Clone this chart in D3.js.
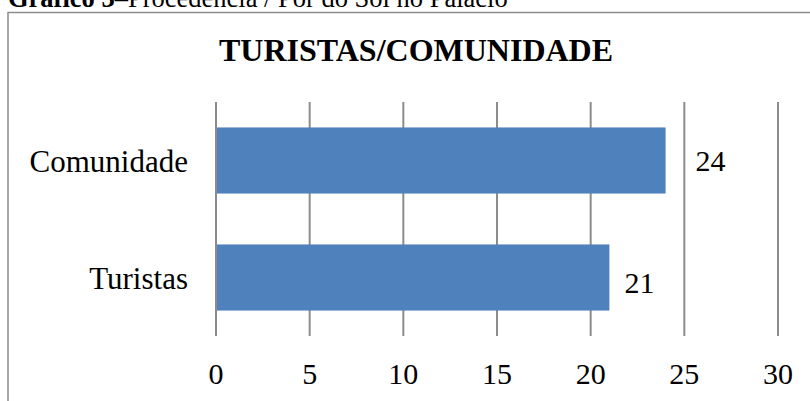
<!DOCTYPE html>
<meta charset="utf-8">
<script src="https://d3js.org/d3.v7.min.js"></script>
<style>
  body { margin: 0; background: #fff; }
</style>
<div id="chart"></div>
<script>
// data
var categories = ["Comunidade", "Turistas"];
var values = [24, 21];
var tickValues = [0, 5, 10, 15, 20, 25, 30];

var width = 810, height = 401;
var font = "'Liberation Serif', 'Times New Roman', serif";

var svg = d3.select("#chart").append("svg")
    .attr("width", width)
    .attr("height", height);

// caption above the box (cut off at top)
var cap = svg.append("text")
    .attr("x", 8)
    .attr("y", 7)
    .style("font-family", font)
    .style("font-size", "26.5px")
    .style("fill", "#000");
cap.append("tspan").style("font-weight", "bold").text("Gráfico 3");
cap.append("tspan").text("–Procedência / Pôr do Sol no Palácio");

// chart border
svg.append("rect")
    .attr("x", 8)
    .attr("y", 12.5)
    .attr("width", 820)
    .attr("height", 420)
    .attr("fill", "none")
    .attr("stroke", "#8c8c8c")
    .attr("stroke-width", 1.5);

// title
svg.append("text")
    .attr("x", 416)
    .attr("y", 61)
    .attr("text-anchor", "middle")
    .style("font-family", font)
    .style("font-size", "32px")
    .style("font-weight", "bold")
    .text("TURISTAS/COMUNIDADE");

var x = d3.scaleLinear()
    .domain([0, 30])
    .range([216, 778]);

var y = d3.scaleBand()
    .domain(categories)
    .range([102, 336])
    .paddingInner(0.435)
    .paddingOuter(0.2175);

// gridlines
svg.selectAll(".grid")
    .data(tickValues)
    .enter().append("line")
    .attr("x1", function(d) { return x(d); })
    .attr("x2", function(d) { return x(d); })
    .attr("y1", 102)
    .attr("y2", 336)
    .attr("stroke", "#8c8c8c")
    .attr("stroke-width", 2);

// bars
svg.selectAll(".bar")
    .data(categories)
    .enter().append("rect")
    .attr("x", x(0) + 1)
    .attr("y", function(d) { return y(d); })
    .attr("width", function(d, i) { return x(values[i]) - x(0) - 1; })
    .attr("height", y.bandwidth())
    .attr("fill", "#4f81bd");

// value labels (nudged like in the original)
var labelDx = [30, 15], labelDy = [10, 15];
svg.selectAll(".val")
    .data(categories)
    .enter().append("text")
    .attr("x", function(d, i) { return x(values[i]) + labelDx[i]; })
    .attr("y", function(d, i) { return y(d) + y.bandwidth() / 2 + labelDy[i]; })
    .style("font-family", font)
    .style("font-size", "30px")
    .text(function(d, i) { return values[i]; });

// category labels
svg.selectAll(".cat")
    .data(categories)
    .enter().append("text")
    .attr("x", 188)
    .attr("y", function(d) { return y(d) + y.bandwidth() / 2 + 11; })
    .attr("text-anchor", "end")
    .style("font-family", font)
    .style("font-size", "31px")
    .text(function(d) { return d; });

// tick labels
svg.selectAll(".tick")
    .data(tickValues)
    .enter().append("text")
    .attr("x", function(d) { return x(d); })
    .attr("y", 384)
    .attr("text-anchor", "middle")
    .style("font-family", font)
    .style("font-size", "30px")
    .text(function(d) { return d; });
</script>
